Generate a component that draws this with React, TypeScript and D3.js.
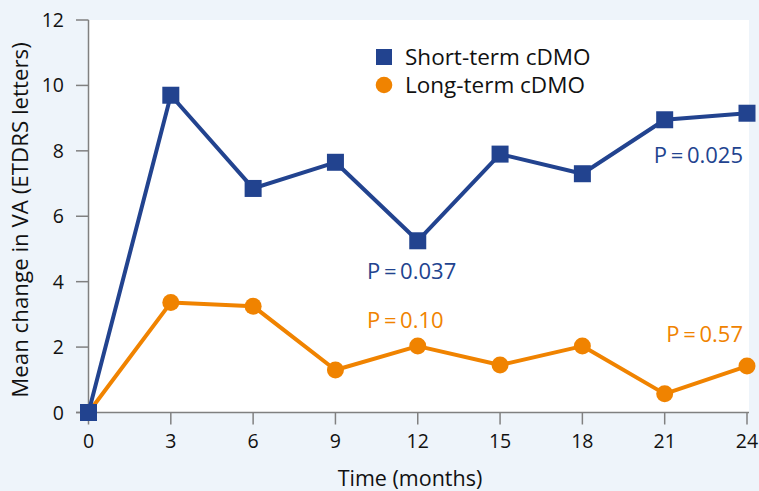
import React from "react";
import * as d3 from "d3";

const months = [0, 3, 6, 9, 12, 15, 18, 21, 24];
const shortTerm = [0, 9.7, 6.85, 7.65, 5.25, 7.9, 7.3, 8.95, 9.15];
const longTerm = [0, 3.36, 3.25, 1.3, 2.03, 1.45, 2.03, 0.57, 1.42];
const yTicks = [0, 2, 4, 6, 8, 10, 12];
const xTicks = [0, 3, 6, 9, 12, 15, 18, 21, 24];
const seriesNames = ["Short-term cDMO", "Long-term cDMO"];
const annotations = [
  { text: "P\u2009=\u20090.025", x: 24, y: 7.63, color: "blue", anchor: "end" },
  { text: "P\u2009=\u20090.037", x: 10, y: 4.08, color: "blue", anchor: "start" },
  { text: "P\u2009=\u20090.10", x: 10, y: 2.58, color: "orange", anchor: "start" },
  { text: "P\u2009=\u20090.57", x: 24, y: 2.16, color: "orange", anchor: "end" },
];

const W = 759;
const H = 491;
const BLUE = "#22438f";
const ORANGE = "#f08300";
const FONT = "'Open Sans', 'Noto Sans', sans-serif";

export default function App() {
  const x = d3.scaleLinear().domain([0, 24]).range([88.5, 747]);
  const y = d3.scaleLinear().domain([0, 12]).range([412.5, 20]);
  const line = d3
    .line<number>()
    .x((_, i) => x(months[i]))
    .y((d) => y(d));

  return (
    <svg
      width={W}
      height={H}
      style={{ position: "absolute", left: 0, top: 0 }}
      fontFamily={FONT}
    >
      <rect x={0} y={0} width={W} height={H} fill="#eef4fa" />
      <rect x={x(0)} y={y(12)} width={749 - x(0)} height={y(0) - y(12)} fill="#ffffff" />

      {/* Y axis */}
      <line x1={x(0)} x2={x(0)} y1={y(12)} y2={y(0)} stroke="#808080" strokeWidth={1.5} />
      {yTicks.map((t) => (
        <g key={"y" + t}>
          <line x1={76} x2={x(0)} y1={y(t)} y2={y(t)} stroke="#808080" strokeWidth={1.5} />
          <text x={64} y={y(t)} dy="0.36em" textAnchor="end" fontSize={19.5} fill="#111">
            {t}
          </text>
        </g>
      ))}
      {/* X axis */}
      <line x1={76} x2={749} y1={y(0)} y2={y(0)} stroke="#808080" strokeWidth={1.5} />
      {xTicks.map((t) => (
        <g key={"x" + t}>
          <line x1={x(t)} x2={x(t)} y1={y(0)} y2={y(0) + 12} stroke="#808080" strokeWidth={1.5} />
          <text x={x(t)} y={448} textAnchor="middle" fontSize={19.5} fill="#111">
            {t}
          </text>
        </g>
      ))}
      <text x={410} y={486} textAnchor="middle" fontSize={21.5} fill="#111">
        Time (months)
      </text>
      <text
        transform={`translate(28, ${220}) rotate(-90)`}
        textAnchor="middle"
        fontSize={22.3}
        fill="#111"
      >
        Mean change in VA (ETDRS letters)
      </text>

      {/* Long-term series */}
      <path d={line(longTerm) || ""} fill="none" stroke={ORANGE} strokeWidth={4} strokeLinejoin="round" />
      {longTerm.map((v, i) => (
        <circle key={"l" + i} cx={x(months[i])} cy={y(v)} r={8.5} fill={ORANGE} />
      ))}

      {/* Short-term series */}
      <path d={line(shortTerm) || ""} fill="none" stroke={BLUE} strokeWidth={4} strokeLinejoin="round" />
      {shortTerm.map((v, i) => (
        <rect key={"s" + i} x={x(months[i]) - 8.5} y={y(v) - 8.5} width={17} height={17} fill={BLUE} />
      ))}

      {/* Annotations */}
      {annotations.map((a) => (
        <text
          key={a.text}
          x={a.anchor === "end" ? 743 : 367}
          y={y(a.y)}
          textAnchor={a.anchor as any}
          fontSize={22}
          fill={a.color === "blue" ? BLUE : ORANGE}
        >
          {a.text}
        </text>
      ))}

      {/* Legend */}
      <rect x={376} y={49} width={16} height={16} fill={BLUE} />
      <text x={405} y={65} fontSize={22.5} fill="#111">
        {seriesNames[0]}
      </text>
      <circle cx={384} cy={85} r={8.3} fill={ORANGE} />
      <text x={405} y={93} fontSize={22.5} fill="#111">
        {seriesNames[1]}
      </text>
    </svg>
  );
}
